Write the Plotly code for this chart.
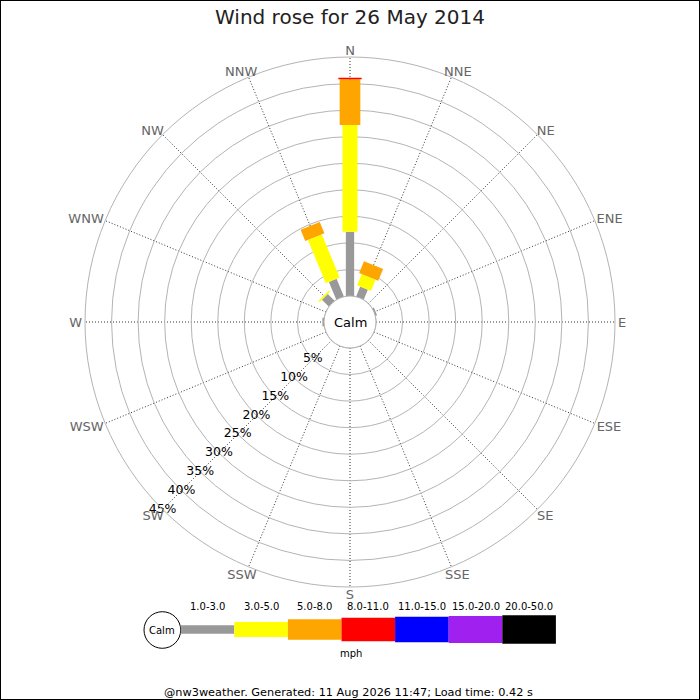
import math
import plotly.graph_objects as go

# wind directions (16 points), clockwise from north
directions = ["N", "NNE", "NE", "ENE", "E", "ESE", "SE", "SSE",
              "S", "SSW", "SW", "WSW", "W", "WNW", "NW", "NNW"]
angles = [i * 22.5 for i in range(16)]

# speed bins (mph) and frequency (%) per direction
speed_bins = ["1.0-3.0", "3.0-5.0", "5.0-8.0", "8.0-11.0",
              "11.0-15.0", "15.0-20.0", "20.0-50.0"]
freq_1_3 = [12.1, 2.0, 0, 0.3, 0, 0, 0, 0, 0, 0, 0, 0, 0.3, 0, 1.8, 3.6]
freq_3_5 = [20.1, 2.3, 0, 0, 0, 0, 0, 0, 0, 0, 0, 0, 0, 0, 0.3, 8.8]
freq_5_8 = [8.6, 2.4, 0, 0, 0, 0, 0, 0, 0, 0, 0, 0, 0, 0, 0, 2.3]
freq_8_11 = [0.3, 0, 0, 0, 0, 0, 0, 0, 0, 0, 0, 0, 0, 0, 0, 0]
freq_11_15 = [0] * 16
freq_15_20 = [0] * 16
freq_20_50 = [0] * 16
freqs = [freq_1_3, freq_3_5, freq_5_8, freq_8_11, freq_11_15, freq_15_20, freq_20_50]

radial_ticks = [5, 10, 15, 20, 25, 30, 35, 40, 45]
radial_labels = [f"{v}%" for v in radial_ticks]

title = "Wind rose for 26 May 2014"
footer = "@nw3weather. Generated: 11 Aug 2026 11:47; Load time: 0.42 s"

# styling
bin_colors = ["#999999", "#ffff00", "#ffa500", "#ff0000", "#0000ff", "#a020f0", "#000000"]
bin_widths = [8.3, 15, 20.7, 23.3, 25.3, 27, 28.7]
FONT = "DejaVu Sans"
W = H = 700
R_MAX = 45
CX, CY = 350, 322   # centre of the rose, px
R_OUT = 265         # outer ring radius, px
R_FRAME = 290       # label frame radius, px (its radial axis is in px)
R_ANCHOR = 268      # compass labels hang off this circle
LAB_SIZE = 13
GLYPH_EM = {"N": 0.748, "E": 0.632, "S": 0.635, "W": 0.989}


def px(x):
    return x / W


def py(y):
    return 1 - y / H


fig = go.Figure()

# calm circle outline (r=0 sits on the hole edge)
fig.add_trace(go.Scatterpolar(
    r=[0] * 73, theta=[i * 5 for i in range(73)], mode="lines",
    line=dict(color="#b0b0b0", width=1), hoverinfo="skip", showlegend=False))

# stacked bars drawn as thick straight segments
base = [0.0] * 16
for name, vals, col, w in zip(speed_bins, freqs, bin_colors, bin_widths):
    rr, tt = [], []
    for k in range(16):
        if vals[k] > 0:
            rr += [base[k], base[k] + vals[k], None]
            tt += [angles[k], angles[k], None]
            base[k] += vals[k]
    if rr:
        fig.add_trace(go.Scatterpolar(
            r=rr, theta=tt, mode="lines", name=name,
            line=dict(color=col, width=w), connectgaps=False,
            showlegend=False))

# radial percent labels along SW
fig.add_trace(go.Scatterpolar(
    r=radial_ticks, theta=[225] * len(radial_ticks), mode="text",
    text=radial_labels, textposition="middle center",
    textfont=dict(family=FONT, size=12.5, color="#000"),
    hoverinfo="skip", showlegend=False))

# compass labels: box pushed out from the anchor circle by half its size
lab_r, lab_t = [], []
for d, a in zip(directions, angles):
    half_w = LAB_SIZE * sum(GLYPH_EM[c] for c in d) / 2
    half_h = 4
    s, c = math.sin(math.radians(a)), math.cos(math.radians(a))
    ex, ny = (R_ANCHOR + half_w) * s, (R_ANCHOR + half_h) * c
    lab_r.append(math.hypot(ex, ny))
    lab_t.append(math.degrees(math.atan2(ex, ny)))
fig.add_trace(go.Scatterpolar(
    r=lab_r, theta=lab_t, mode="text", text=directions,
    textposition="middle center", cliponaxis=False, subplot="polar2",
    textfont=dict(family=FONT, size=LAB_SIZE, color="#666"),
    hoverinfo="skip", showlegend=False))

fig.update_layout(
    width=W, height=H,
    margin=dict(l=0, r=0, t=0, b=0),
    paper_bgcolor="white",
    font=dict(family=FONT),
    polar=dict(
        domain=dict(x=[px(CX - R_OUT), px(CX + R_OUT)],
                    y=[py(CY + R_OUT), py(CY - R_OUT)]),
        hole=26 / R_OUT,
        bgcolor="white",
        radialaxis=dict(range=[0, R_MAX], tickvals=radial_ticks, showticklabels=False,
                        ticks="", showline=False, gridcolor="#b4b4b4", gridwidth=1),
        angularaxis=dict(rotation=90, direction="clockwise",
                         tickvals=angles, showticklabels=False, ticks="",
                         showline=True, linecolor="#b4b4b4", linewidth=1,
                         gridcolor="#333", griddash="1px,2px", gridwidth=1),
    ),
    # label frame sits 2px lower to offset the text box's descender space
    polar2=dict(
        domain=dict(x=[px(CX - R_FRAME), px(CX + R_FRAME)],
                    y=[py(CY + 2 + R_FRAME), py(CY + 2 - R_FRAME)]),
        bgcolor="rgba(0,0,0,0)",
        radialaxis=dict(range=[0, R_FRAME], visible=False),
        angularaxis=dict(rotation=90, direction="clockwise", visible=False),
    ),
)

annotations = [
    dict(text=title, x=0.5, y=py(17), font=dict(size=20, color="#222")),
    dict(text="Calm", x=px(CX), y=py(CY), font=dict(size=13, color="#000")),
    dict(text="Calm", x=px(162.3), y=py(630), font=dict(size=10, color="#000")),
    dict(text="mph", x=px(351), y=py(653.5), font=dict(size=10, color="#000")),
    dict(text=footer, x=px(348), y=py(692), font=dict(size=11.3, color="#000")),
]

# legend: calm circle + one swatch per speed bin
shapes = [
    dict(type="circle", xref="paper", yref="paper",
         x0=px(144), x1=px(180.7), y0=py(648.3), y1=py(611.7),
         line=dict(color="#000", width=1), fillcolor="white"),
    dict(type="rect", xref="paper", yref="paper", x0=0, x1=1, y0=0, y1=1,
         line=dict(color="#000", width=2)),
]
seg = 53.6
for i, (name, col, w) in enumerate(zip(speed_bins, bin_colors, bin_widths)):
    x0 = 180.7 + i * seg
    shapes.append(dict(type="rect", xref="paper", yref="paper",
                       x0=px(x0), x1=px(x0 + seg),
                       y0=py(629.5 + w / 2), y1=py(629.5 - w / 2),
                       line=dict(width=0), fillcolor=col))
    annotations.append(dict(text=name, x=px(x0 + seg / 2), y=py(606.7),
                            font=dict(size=10, color="#000")))

for a in annotations:
    a.update(xref="paper", yref="paper", showarrow=False,
             xanchor="center", yanchor="middle")
fig.update_layout(annotations=annotations, shapes=shapes)

# drop the page's default body margin so the 700x700 figure fills the window
fig.write_html("out.html", config={"displayModeBar": False},
               post_script="document.body.style.margin='0';document.body.style.overflow='hidden';")
